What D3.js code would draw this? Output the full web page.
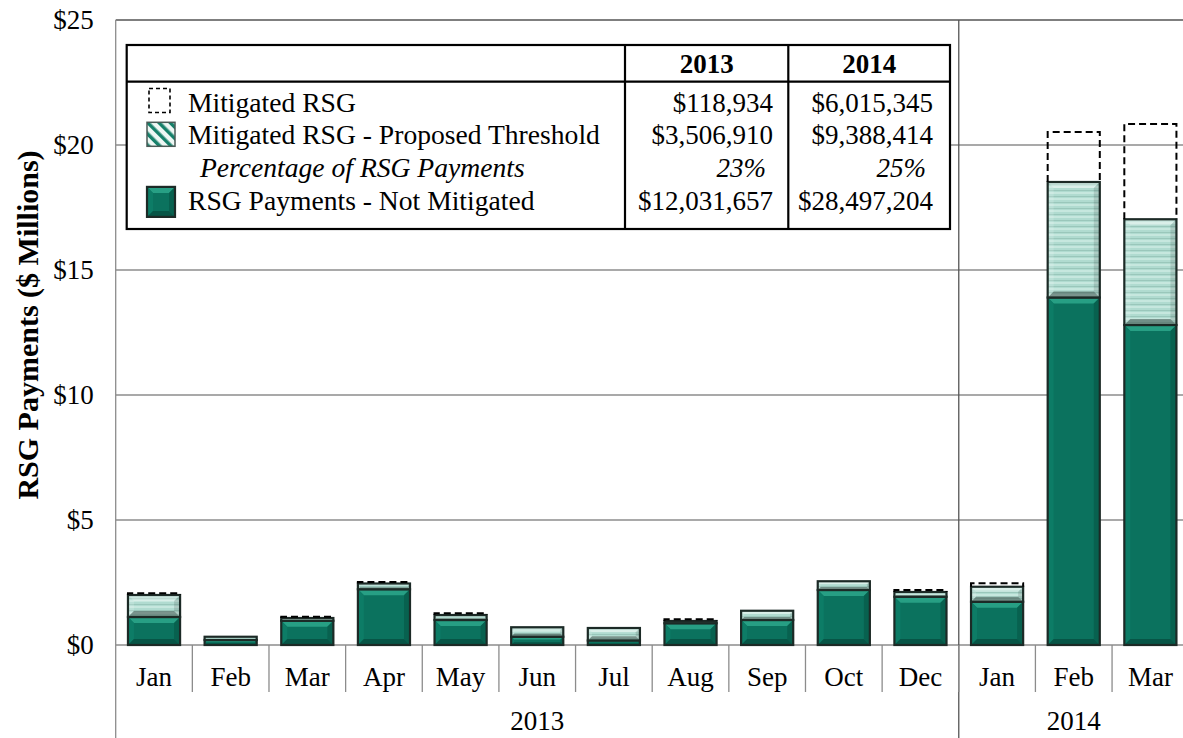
<!DOCTYPE html>
<html lang="en">

<head>
	<meta charset="UTF-8"/>
	<title>RSG Payments</title>
	<script src="https://d3js.org/d3.v7.min.js"></script>
	<style>
		body { margin: 0; background: #fff; }
		text { font-family: "Liberation Serif", "Times New Roman", serif; fill: #000; }
	</style>
</head>
<body>
	<script>
	var months = ["Jan", "Feb", "Mar", "Apr", "May", "Jun", "Jul", "Aug", "Sep", "Oct", "Dec", "Jan", "Feb", "Mar"];
	var years = ["2013", "2014"];
	var monthYear = ["2013", "2013", "2013", "2013", "2013", "2013", "2013", "2013", "2013", "2013", "2013", "2014", "2014", "2014"];

	// $ millions
	var notMitigated = [1.12, 0.2, 0.97, 2.23, 1.0, 0.33, 0.18, 0.87, 1.0, 2.2, 1.93, 1.73, 13.9, 12.8];
	var proposedThreshold = [0.88, 0.13, 0.11, 0.23, 0.2, 0.38, 0.5, 0.09, 0.37, 0.35, 0.19, 0.6, 4.62, 4.23];
	var mitigated = [0.07, 0, 0.05, 0.06, 0.07, 0, 0, 0.07, 0, 0, 0.08, 0.14, 2.0, 3.81];

	var yTicks = [0, 5, 10, 15, 20, 25];

	var tableLabels = ["Mitigated RSG", "Mitigated RSG - Proposed Threshold", "Percentage of RSG Payments", "RSG Payments - Not Mitigated"];
	var table2013 = ["$118,934", "$3,506,910", "23%", "$12,031,657"];
	var table2014 = ["$6,015,345", "$9,388,414", "25%", "$28,497,204"];

	var w = 1183;
	var h = 738;
	var plotLeft = 115.7, plotRight = 1188.7, plotTop = 20, plotBottom = 645;

	var svg = d3.select("body")
		.append("svg")
		.attr("width", w)
		.attr("height", h);

	var defs = svg.append("defs");
	var pat = defs.append("pattern")
		.attr("id", "stripes")
		.attr("patternUnits", "userSpaceOnUse")
		.attr("width", 6)
		.attr("height", 6);
	pat.append("rect").attr("width", 6).attr("height", 6).attr("fill", "#b0dbd0");
	pat.append("rect").attr("y", 0).attr("width", 6).attr("height", 2).attr("fill", "#c6e7de");
	pat.append("rect").attr("y", 4).attr("width", 6).attr("height", 1).attr("fill", "#9ac7bb");

	var diag = defs.append("pattern")
		.attr("id", "diag")
		.attr("patternUnits", "userSpaceOnUse")
		.attr("width", 8)
		.attr("height", 8)
		.attr("patternTransform", "rotate(-45)");
	diag.append("rect").attr("width", 8).attr("height", 8).attr("fill", "#eef7f4");
	diag.append("rect").attr("width", 3.5).attr("height", 8).attr("fill", "#16806a");

	var x = d3.scaleBand()
		.domain(d3.range(months.length))
		.range([plotLeft, plotRight])
		.paddingInner(0.32)
		.paddingOuter(0.16);

	var y = d3.scaleLinear()
		.domain([0, 25])
		.range([plotBottom, plotTop]);

	var step = x.step();

	// grid
	svg.append("g")
		.selectAll("line")
		.data(yTicks)
		.enter()
		.append("line")
		.attr("x1", plotLeft)
		.attr("x2", w)
		.attr("y1", function(d) { return y(d); })
		.attr("y2", function(d) { return y(d); })
		.attr("stroke", function(d) { return d == 25 ? "#555" : "#8c8c8c"; })
		.attr("stroke-width", 1.3);

	// left axis line and 2013 / 2014 divider
	var split = plotLeft + 11 * step;
	svg.append("line").attr("x1", plotLeft).attr("x2", plotLeft).attr("y1", plotTop).attr("y2", h)
		.attr("stroke", "#8c8c8c").attr("stroke-width", 1.3);
	svg.append("line").attr("x1", split).attr("x2", split).attr("y1", plotTop).attr("y2", h)
		.attr("stroke", "#555").attr("stroke-width", 1.3);

	// month separators
	svg.append("g")
		.selectAll("line")
		.data(d3.range(1, months.length))
		.enter()
		.append("line")
		.attr("x1", function(d) { return plotLeft + d * step; })
		.attr("x2", function(d) { return plotLeft + d * step; })
		.attr("y1", plotBottom)
		.attr("y2", 692)
		.attr("stroke", "#8c8c8c")
		.attr("stroke-width", 1.3);

	var yAxis = d3.axisLeft(y)
		.tickValues(yTicks)
		.tickSize(0)
		.tickPadding(22)
		.tickFormat(function(d) { return "$" + d; });
	svg.append("g")
		.attr("transform", "translate(" + plotLeft + ",0)")
		.call(yAxis)
		.call(function(g) { g.select(".domain").remove(); })
		.selectAll("text")
		.style("font-family", "Liberation Serif")
		.style("font-size", "27px");

	var xAxis = d3.axisBottom(x)
		.tickSize(0)
		.tickPadding(22)
		.tickFormat(function(d) { return months[d]; });
	svg.append("g")
		.attr("transform", "translate(0," + plotBottom + ")")
		.call(xAxis)
		.call(function(g) { g.select(".domain").remove(); })
		.selectAll("text")
		.style("font-family", "Liberation Serif")
		.style("font-size", "27px");

	svg.selectAll(".year")
		.data(years)
		.enter()
		.append("text")
		.attr("class", "year")
		.attr("x", function(d) {
			var idx = d3.range(months.length).filter(function(i) { return monthYear[i] == d; });
			return (plotLeft + idx[0] * step + plotLeft + (idx[idx.length - 1] + 1) * step) / 2;
		})
		.attr("y", 730)
		.attr("text-anchor", "middle")
		.style("font-size", "27px")
		.text(function(d) { return d; });

	svg.append("text")
		.attr("transform", "translate(38,325) rotate(-90)")
		.attr("text-anchor", "middle")
		.style("font-size", "30px")
		.style("font-weight", "bold")
		.text("RSG Payments ($ Millions)");

	// bevelled block
	function bevel(g, x0, y0, bw, bh, faces) {
		var b = Math.min(6, bh / 3, bw / 3);
		g.append("rect").attr("x", x0).attr("y", y0).attr("width", bw).attr("height", bh).attr("fill", faces.face);
		if (b > 0.5) {
			g.append("polygon").attr("points", [[x0, y0], [x0 + bw, y0], [x0 + bw - b, y0 + b], [x0 + b, y0 + b]].join(" ")).attr("fill", faces.top);
			g.append("polygon").attr("points", [[x0, y0], [x0 + b, y0 + b], [x0 + b, y0 + bh - b], [x0, y0 + bh]].join(" ")).attr("fill", faces.side);
			g.append("polygon").attr("points", [[x0 + bw, y0], [x0 + bw, y0 + bh], [x0 + bw - b, y0 + bh - b], [x0 + bw - b, y0 + b]].join(" ")).attr("fill", faces.side2);
			g.append("polygon").attr("points", [[x0, y0 + bh], [x0 + b, y0 + bh - b], [x0 + bw - b, y0 + bh - b], [x0 + bw, y0 + bh]].join(" ")).attr("fill", faces.bottom);
		}
		g.append("rect").attr("x", x0).attr("y", y0).attr("width", bw).attr("height", bh)
			.attr("fill", "none").attr("stroke", "#1c2a26").attr("stroke-width", 2.2);
	}

	var greenFaces = { face: "#0b725e", top: "#279f84", side: "#0d7c66", side2: "#08614f", bottom: "#075546" };
	var hatchFaces = { face: "url(#stripes)", top: "rgba(255,255,255,0.35)", side: "rgba(255,255,255,0.15)", side2: "rgba(0,0,0,0.12)", bottom: "rgba(60,80,75,0.55)" };

	var bars = svg.append("g");
	d3.range(months.length).forEach(function(i) {
		var bx = x(i), bw = x.bandwidth();
		var g = bars.append("g");
		var yGreen = y(notMitigated[i]);
		var yHatch = y(notMitigated[i] + proposedThreshold[i]);
		var yTop = y(notMitigated[i] + proposedThreshold[i] + mitigated[i]);
		bevel(g, bx, yGreen, bw, plotBottom - yGreen, greenFaces);
		if (proposedThreshold[i] > 0) bevel(g, bx, yHatch, bw, yGreen - yHatch, hatchFaces);
		if (mitigated[i] > 0) {
			g.append("path")
				.attr("d", "M" + bx + "," + yHatch + "V" + yTop + "H" + (bx + bw) + "V" + yHatch)
				.attr("fill", "none")
				.attr("stroke", "#000")
				.attr("stroke-width", 2)
				.attr("stroke-dasharray", "7,4");
		}
	});

	// data table legend
	var tx0 = 126.7, tx1 = 950, ty0 = 45, ty1 = 229, hy = 81.7, c1 = 625, c2 = 788.3;
	var tbl = svg.append("g");
	tbl.append("rect").attr("x", tx0).attr("y", ty0).attr("width", tx1 - tx0).attr("height", ty1 - ty0)
		.attr("fill", "#fff").attr("stroke", "#000").attr("stroke-width", 2.2);
	tbl.append("line").attr("x1", tx0).attr("x2", tx1).attr("y1", hy).attr("y2", hy).attr("stroke", "#000").attr("stroke-width", 2.2);
	tbl.append("line").attr("x1", c1).attr("x2", c1).attr("y1", ty0).attr("y2", ty1).attr("stroke", "#000").attr("stroke-width", 2.2);
	tbl.append("line").attr("x1", c2).attr("x2", c2).attr("y1", ty0).attr("y2", ty1).attr("stroke", "#000").attr("stroke-width", 2.2);

	tbl.selectAll(".hdr")
		.data(years)
		.enter()
		.append("text")
		.attr("x", function(d, i) { return i == 0 ? (c1 + c2) / 2 : (c2 + tx1) / 2; })
		.attr("y", 73)
		.attr("text-anchor", "middle")
		.style("font-size", "27px")
		.style("font-weight", "bold")
		.text(function(d) { return d; });

	var rowY = function(i) { return 111.5 + i * 32.8; };

	tbl.selectAll(".lbl")
		.data(tableLabels)
		.enter()
		.append("text")
		.attr("x", function(d, i) { return i == 2 ? 200 : 188; })
		.attr("y", function(d, i) { return rowY(i); })
		.style("font-size", "27.6px")
		.style("font-style", function(d, i) { return i == 2 ? "italic" : "normal"; })
		.text(function(d) { return d; });

	[table2013, table2014].forEach(function(col, c) {
		tbl.selectAll(".v" + c)
			.data(col)
			.enter()
			.append("text")
			.attr("x", function(d, i) { return (c == 0 ? 773 : 933) - (i == 2 ? 7 : 0); })
			.attr("y", function(d, i) { return rowY(i); })
			.attr("text-anchor", "end")
			.style("font-size", "27px")
			.style("font-style", function(d, i) { return i == 2 ? "italic" : "normal"; })
			.text(function(d) { return d; });
	});

	// legend keys
	var kx = 147, ks = 28;
	tbl.append("rect").attr("x", kx + 2).attr("y", rowY(0) - 23).attr("width", 21).attr("height", 24)
		.attr("fill", "none").attr("stroke", "#000").attr("stroke-width", 1.6).attr("stroke-dasharray", "4,3");
	var k2 = tbl.append("g");
	k2.append("rect").attr("x", kx).attr("y", rowY(1) - 22).attr("width", ks).attr("height", 24).attr("fill", "url(#diag)")
		.attr("stroke", "#4a5a56").attr("stroke-width", 1.5);
	var k4 = tbl.append("g");
	bevel(k4, kx, rowY(3) - 23, ks, 30, greenFaces);
	</script>
</body>
</html>
